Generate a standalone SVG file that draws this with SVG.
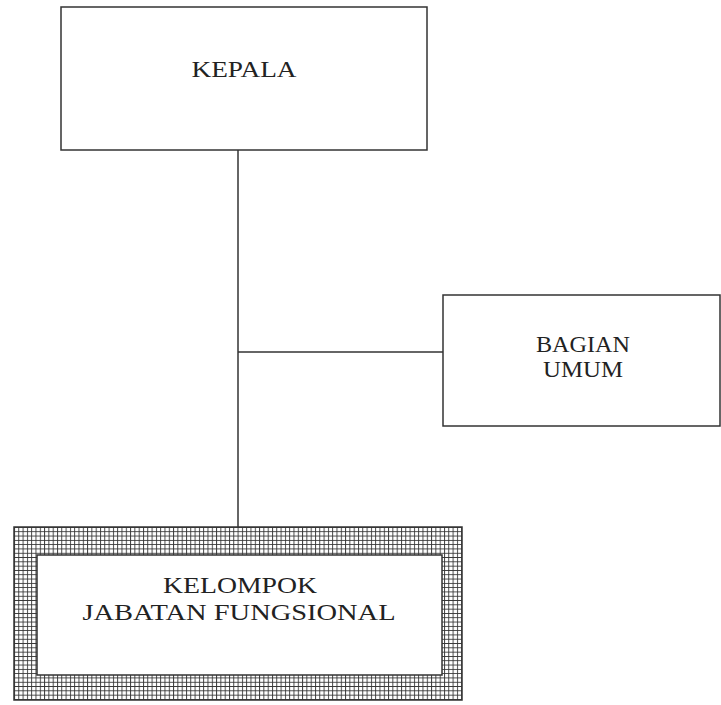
<svg xmlns="http://www.w3.org/2000/svg" width="721" height="705" viewBox="0 0 721 705">
<defs>
<pattern id="grid" x="14" y="527" width="4.3" height="4.3" patternUnits="userSpaceOnUse">
<rect width="4.3" height="4.3" fill="#ffffff"/>
<path d="M0 0.5 H4.3 M0.5 0 V4.3" stroke="#333333" stroke-width="0.9" fill="none"/>
</pattern>
</defs>
<style>
.box{fill:#ffffff;stroke:#333333;stroke-width:1.5}
.lbl{font-family:"Liberation Serif","DejaVu Serif",serif;font-size:24px;fill:#222222;text-anchor:middle}
.conn{stroke:#333333;stroke-width:1.5;fill:none}
</style>
<rect width="721" height="705" fill="#ffffff"/>
<g id="connectors">
<line class="conn" x1="238" y1="150" x2="238" y2="528"/>
<line class="conn" x1="238" y1="352" x2="443" y2="352"/>
</g>
<g id="kepala">
<rect class="box" x="61" y="7" width="366" height="143"/>
<text class="lbl" x="244" y="77" textLength="105" lengthAdjust="spacingAndGlyphs">KEPALA</text>
</g>
<g id="bagian-umum">
<rect class="box" x="443" y="295" width="277" height="131"/>
<text class="lbl" x="583" y="352" textLength="94" lengthAdjust="spacingAndGlyphs">BAGIAN</text>
<text class="lbl" x="583" y="377" textLength="80" lengthAdjust="spacingAndGlyphs">UMUM</text>
</g>
<g id="kelompok-jabatan-fungsional">
<rect x="14" y="527" width="448" height="173" fill="url(#grid)" stroke="#333333" stroke-width="1.5"/>
<rect class="box" x="37" y="555" width="405" height="120"/>
<text class="lbl" x="240" y="593" textLength="154" lengthAdjust="spacingAndGlyphs">KELOMPOK</text>
<text class="lbl" x="239" y="620" textLength="313" lengthAdjust="spacingAndGlyphs">JABATAN FUNGSIONAL</text>
</g>
</svg>
